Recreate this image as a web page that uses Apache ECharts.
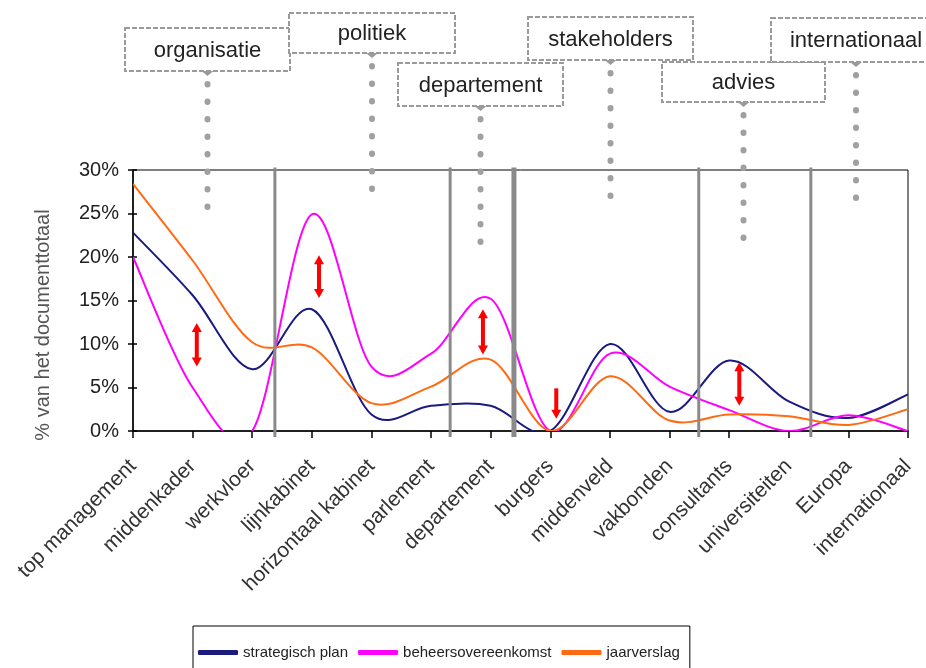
<!DOCTYPE html>
<html>
<head>
<meta charset="utf-8">
<script src="https://cdn.jsdelivr.net/npm/echarts@6/dist/echarts.min.js"></script>
<style>
  html, body { margin: 0; padding: 0; background: #fff; }
  #chart { width: 926px; height: 668px; }
</style>
</head>
<body>
<div id="chart"></div>
<script>
// Actors mentioned, in order along the horizontal axis
const categories = [
  'top management', 'middenkader', 'werkvloer', 'lijnkabinet',
  'horizontaal kabinet', 'parlement', 'departement', 'burgers',
  'middenveld', 'vakbonden', 'consultants', 'universiteiten',
  'Europa', 'internationaal'
];

// Share of the document total (%) per document type
const strategischPlan     = [22.8, 15.6, 7.1, 14.0, 1.9, 2.9, 2.9, 0, 10.0, 2.2, 8.1, 3.4, 1.5, 4.2];
const beheersovereenkomst = [20.0, 5.0, 0, 24.9, 7.4, 8.9, 15.2, 0, 8.9, 5.1, 2.4, 0, 1.8, 0];
const jaarverslag         = [28.4, 19.6, 10.2, 9.6, 3.2, 5.1, 8.2, 0, 6.3, 1.2, 1.9, 1.7, 0.7, 2.5];

// Value axis ticks
const yMin = 0, yMax = 30, yStep = 5;

// Group separators, positioned in category-index units
const separators = [2.38, 5.32, 6.39, 9.49, 11.37];
const separatorWidths = [3, 3, 5, 3, 3];

// Red arrows: [category index, from %, to %, heads at both ends]
const arrows = [
  [1.07, 12.4, 7.4, true],
  [3.12, 20.2, 15.3, true],
  [5.87, 14.0, 8.8, true],
  [7.10, 4.9, 1.4, false],
  [10.17, 7.9, 2.9, true]
];

// Group captions above the plot (box geometry in pixels)
const groupBoxes = [
  { text: 'organisatie',    x: 125, y: 28, w: 165, h: 43, dotEnd: 214 },
  { text: 'politiek',       x: 289, y: 13, w: 166, h: 40, dotEnd: 196 },
  { text: 'departement',    x: 398, y: 63, w: 165, h: 43, dotEnd: 249 },
  { text: 'stakeholders',   x: 528, y: 17, w: 165, h: 43, dotEnd: 204 },
  { text: 'advies',         x: 662, y: 62, w: 163, h: 40, dotEnd: 246 },
  { text: 'internationaal', x: 771, y: 18, w: 170, h: 44, dotEnd: 206 }
];

const FONT = '"Liberation Sans", Arial, Helvetica, sans-serif';
const chart = echarts.init(document.getElementById('chart'), null, { renderer: 'canvas' });

const toPairs = arr => arr.map((v, i) => [i, v]);

// Smoothed line through all points (Catmull-Rom spline drawn as cubic Béziers)
function smoothLineSeries(name, color, values) {
  return {
    name, type: 'custom', coordinateSystem: 'cartesian2d',
    data: toPairs(values),
    encode: { x: 0, y: 1 },
    itemStyle: { color },
    renderItem: (params, api) => {
      if (params.dataIndex !== 0) return null;
      const pts = values.map((v, i) => api.coord([i, v]));
      const n = pts.length;
      let d = 'M' + pts[0][0] + ' ' + pts[0][1];
      for (let i = 0; i < n - 1; i++) {
        const p0 = pts[Math.max(i - 1, 0)], p1 = pts[i], p2 = pts[i + 1], p3 = pts[Math.min(i + 2, n - 1)];
        const c1x = p1[0] + (p2[0] - p0[0]) / 6, c1y = p1[1] + (p2[1] - p0[1]) / 6;
        const c2x = p2[0] - (p3[0] - p1[0]) / 6, c2y = p2[1] - (p3[1] - p1[1]) / 6;
        d += ' C' + c1x + ' ' + c1y + ' ' + c2x + ' ' + c2y + ' ' + p2[0] + ' ' + p2[1];
      }
      const cs = params.coordSys;
      return {
        type: 'group',
        clipPath: { type: 'rect', shape: { x: cs.x, y: cs.y - 1, width: cs.width, height: cs.height + 1 } },
        children: [{
          type: 'path',
          shape: { pathData: d },
          style: { stroke: color, lineWidth: 2, fill: 'none', lineJoin: 'round' }
        }]
      };
    }
  };
}

chart.setOption({
  animation: false,
  backgroundColor: '#fff',
  grid: { left: 133, right: 18, top: 170, bottom: 237, show: true, borderColor: '#000', borderWidth: 1, backgroundColor: 'transparent' },
  xAxis: {
    type: 'value', min: 0, max: categories.length - 1, interval: 1,
    axisLine: { lineStyle: { color: '#000', width: 1.5 } },
    axisTick: { show: true, length: 7, lineStyle: { color: '#000', width: 1.5 } },
    splitLine: { show: false },
    axisLabel: {
      rotate: 45, margin: 32, fontFamily: FONT, fontSize: 21, color: '#333',
      formatter: v => categories[v] || '', showMinLabel: true, showMaxLabel: true
    }
  },
  yAxis: [
    {
      type: 'value', min: yMin, max: yMax, interval: yStep,
      axisLine: { show: true, lineStyle: { color: '#000', width: 1.5 } },
      axisTick: { show: true, length: 5, lineStyle: { color: '#000', width: 1.5 } },
      splitLine: { show: false },
      axisLabel: { formatter: '{value}%', fontFamily: FONT, fontSize: 20, color: '#222', margin: 14 }
    },
    {
      type: 'value', min: yMin, max: yMax, interval: yStep, position: 'left',
      axisLine: { show: false }, axisLabel: { show: false }, splitLine: { show: false },
      axisTick: { show: true, inside: true, length: 4, lineStyle: { color: '#000', width: 1.5 } }
    }
  ],
  legend: {
    data: ['strategisch plan', 'beheersovereenkomst', 'jaarverslag'],
    left: 193, top: 626,
    padding: [19, 10, 40, 5],
    borderColor: '#000', borderWidth: 1,
    itemWidth: 40, itemHeight: 5, itemGap: 10,
    icon: 'roundRect',
    textStyle: { fontFamily: FONT, fontSize: 15, color: '#222' }
  },
  series: [
    smoothLineSeries('strategisch plan', '#1a1a80', strategischPlan),
    smoothLineSeries('beheersovereenkomst', '#ff00ff', beheersovereenkomst),
    smoothLineSeries('jaarverslag', '#ff6a13', jaarverslag)
  ]
});

// Overlays: separators, arrows, y-axis title and group captions
function px(x, y) { return chart.convertToPixel({ gridIndex: 0 }, [x, y]); }

const graphics = [];

separators.forEach((s, i) => {
  const top = px(s, 30.3), bot = px(s, -0.7);
  graphics.push({
    type: 'line', z: 5,
    shape: { x1: top[0], y1: top[1], x2: bot[0], y2: bot[1] },
    style: { stroke: '#8a8a8a', lineWidth: separatorWidths[i] }
  });
});

arrows.forEach(([xi, from, to, both]) => {
  const a = px(xi, from), b = px(xi, to);
  const x = a[0], head = 9, half = 5;
  const dir = b[1] > a[1] ? 1 : -1;
  graphics.push({
    type: 'line', z: 6,
    shape: { x1: x, y1: a[1] + (both ? dir * head * 0.6 : 0), x2: x, y2: b[1] - dir * head * 0.6 },
    style: { stroke: '#ff0000', lineWidth: 4 }
  });
  graphics.push({
    type: 'polygon', z: 6,
    shape: { points: [[x - half, b[1] - dir * head], [x + half, b[1] - dir * head], [x, b[1]]] },
    style: { fill: '#ff0000' }
  });
  if (both) {
    graphics.push({
      type: 'polygon', z: 6,
      shape: { points: [[x - half, a[1] + dir * head], [x + half, a[1] + dir * head], [x, a[1]]] },
      style: { fill: '#ff0000' }
    });
  }
});

graphics.push({
  type: 'text', x: 43, y: 325, rotation: Math.PI / 2, z: 10,
  style: {
    text: '% van het documenttotaal', fontFamily: FONT, fontSize: 20, fill: '#555',
    align: 'center', verticalAlign: 'middle'
  }
});

groupBoxes.forEach(g => {
  const cx = g.x + g.w / 2, by = g.y + g.h;
  graphics.push({
    type: 'rect', z: 10,
    shape: { x: g.x, y: g.y, width: g.w, height: g.h },
    style: { fill: '#fff', stroke: '#9a9a9a', lineWidth: 2, lineDash: [5, 2] }
  });
  graphics.push({
    type: 'polygon', z: 11,
    shape: { points: [[cx - 6, by], [cx + 6, by], [cx, by + 5]] },
    style: { fill: '#9a9a9a' }
  });
  graphics.push({
    type: 'text', z: 11, x: cx, y: g.y + g.h / 2 + 1,
    style: { text: g.text, fontFamily: FONT, fontSize: 22, fill: '#222', align: 'center', verticalAlign: 'middle' }
  });
  graphics.push({
    type: 'line', z: 9,
    shape: { x1: cx, y1: by + 13, x2: cx, y2: g.dotEnd },
    style: { stroke: '#a0a0a0', lineWidth: 6, lineDash: [0.5, 17], lineCap: 'round' }
  });
});

chart.setOption({ graphic: graphics });
</script>
</body>
</html>
